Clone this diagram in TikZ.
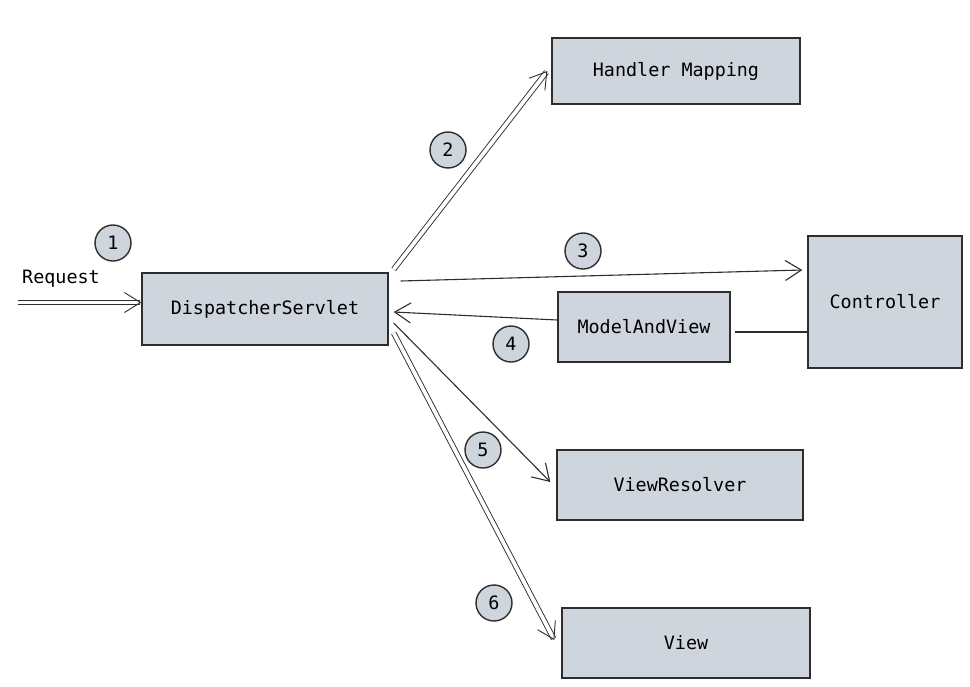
\documentclass[tikz,border=0pt]{standalone}
\usepackage{fontspec}
\setmonofont{DejaVu Sans Mono}
\usetikzlibrary{arrows.meta}
\definecolor{boxfill}{RGB}{207,213,221}
\definecolor{ink}{RGB}{45,45,45}

\begin{document}
\begin{tikzpicture}[x=0.5pt, y=-0.5pt,
  font=\ttfamily\fontsize{9.2}{11}\selectfont,
  box/.style={draw=ink, line width=0.7pt, fill=boxfill, inner sep=0pt},
  num/.style={circle, draw=ink, line width=0.7pt, fill=boxfill, minimum size=18pt, inner sep=0pt},
  flow/.style={draw=ink, line width=0.55pt, -{Straight Barb[length=8pt, width=10pt]}},
  twin/.style={flow, double=white, double distance=1.9pt, line width=0.45pt}]
\useasboundingbox (0,0) rectangle (970,686);
% boxes
\node[box, minimum width=123pt, minimum height=36pt] (disp) at (265,309) {DispatcherServlet};
\node[box, minimum width=124pt, minimum height=33pt] (hm) at (676,71) {Handler Mapping};
\node[box, minimum width=77pt, minimum height=66pt] (ctrl) at (885,302) {Controller};
\node[box, minimum width=86pt, minimum height=35pt] (mav) at (644,327) {ModelAndView};
\node[box, minimum width=123pt, minimum height=35pt] (vr) at (680,485) {ViewResolver};
\node[box, minimum width=124pt, minimum height=35pt] (view) at (686,643) {View};
% step numbers
\node[num] (n1) at (113,243) {1};
\node[num] (n2) at (448,150) {2};
\node[num] (n3) at (583,251) {3};
\node[num] (n4) at (511,344) {4};
\node[num] (n5) at (483,450) {5};
\node[num] (n6) at (494,603) {6};
% request in
\node (req) at (61,279) {Request};
\coordinate (src) at (18,302.5);
\draw[twin] (src) -- (src -| disp.west);
% outgoing and returning calls
\draw[twin] ([shift={(5,-3)}]disp.north east) -- ([xshift=-2pt]hm.west);
\draw[flow] ([shift={(12,-28)}]disp.east) -- ([shift={(-5,-32)}]ctrl.west);
\draw[draw=ink, line width=0.55pt] ([yshift=-2.5pt]ctrl.west |- mav.east) -- ([shift={(4,5)}]mav.east);
\draw[flow] ([yshift=3.5pt]mav.west) -- ([shift={(5,3)}]disp.east);
\draw[flow] ([shift={(5,14)}]disp.east) -- ([shift={(-6,-3)}]vr.west);
\draw[twin] ([shift={(5,24)}]disp.east) -- ([shift={(-7,-3)}]view.west);
\end{tikzpicture}
\end{document}
